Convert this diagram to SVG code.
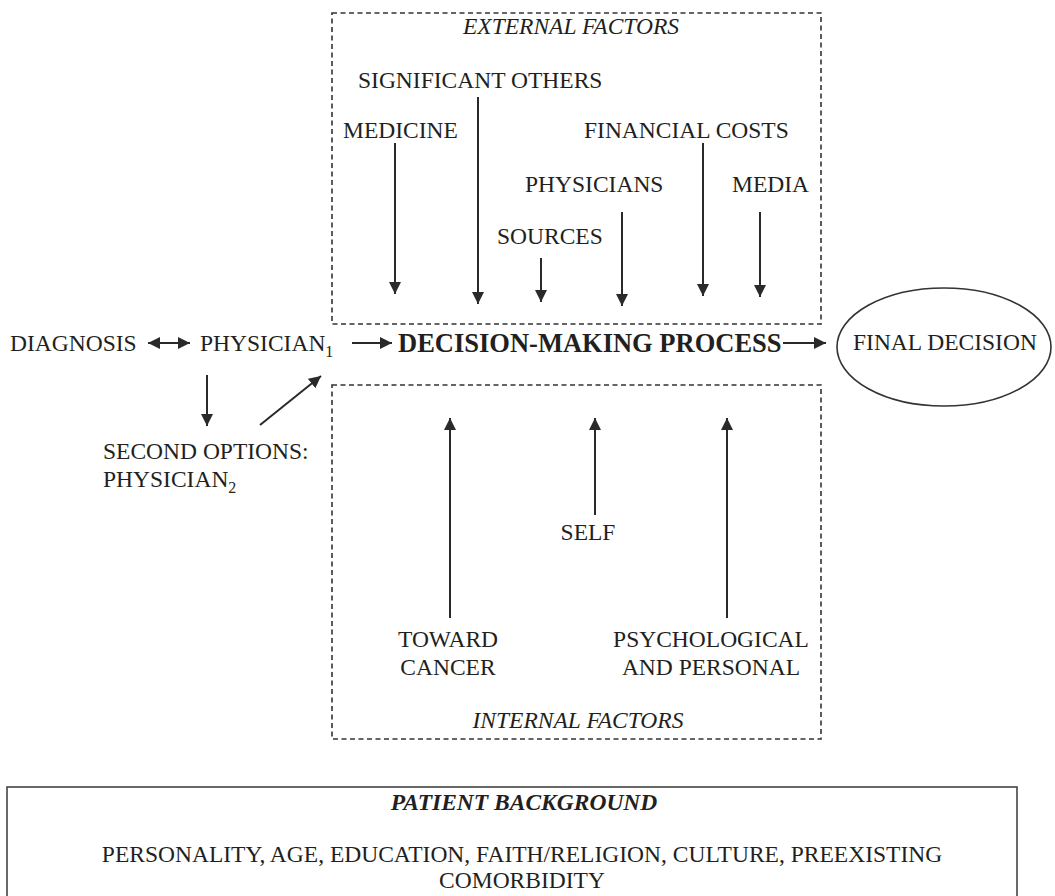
<svg xmlns="http://www.w3.org/2000/svg" width="1055" height="896" viewBox="0 0 1055 896">
<defs>
<marker id="ah" markerUnits="userSpaceOnUse" markerWidth="14" markerHeight="12" refX="12" refY="6" orient="auto-start-reverse">
<path d="M0,0 L12,6 L0,12 Z" fill="#2a2a2a"/>
</marker>
<style>
.t{font-family:"Liberation Serif","Times New Roman",serif;font-size:23.5px;fill:#231f20}
.it{font-style:italic}
.b{font-weight:bold;font-size:26.5px}
.sub{font-size:16px}
.dash{fill:none;stroke:#333;stroke-width:1.6;stroke-dasharray:5,3.5}
.c{fill:none;stroke:#2a2a2a;stroke-width:2;marker-end:url(#ah)}
.m{text-anchor:middle}
</style>
</defs>
<rect width="1055" height="896" fill="#fff"/>

<g id="external">
<rect class="dash" x="332" y="13" width="489" height="311"/>
<text class="t it m" x="571" y="34">EXTERNAL FACTORS</text>
</g>
<g id="significant-others"><text class="t" x="358" y="88">SIGNIFICANT OTHERS</text></g>
<g id="medicine"><text class="t" x="343" y="138">MEDICINE</text></g>
<g id="financial"><text class="t" x="584" y="138">FINANCIAL COSTS</text></g>
<g id="physicians"><text class="t" x="525" y="192">PHYSICIANS</text></g>
<g id="media"><text class="t" x="732" y="192">MEDIA</text></g>
<g id="sources"><text class="t" x="497" y="244">SOURCES</text></g>

<g id="diagnosis"><text class="t" x="10" y="351">DIAGNOSIS</text></g>
<g id="physician1"><text class="t" x="200" y="351">PHYSICIAN<tspan class="sub" dy="6">1</tspan></text></g>
<g id="process"><text class="t b" x="398" y="352">DECISION-MAKING PROCESS</text></g>
<g id="final">
<ellipse cx="944" cy="347" rx="107" ry="59" fill="none" stroke="#333" stroke-width="1.6"/>
<text class="t" x="853" y="350">FINAL DECISION</text>
</g>
<g id="second"><text class="t" x="103" y="459">SECOND OPTIONS:</text><text class="t" x="103" y="487">PHYSICIAN<tspan class="sub" dy="6">2</tspan></text></g>

<g id="internal">
<rect class="dash" x="332" y="385" width="489" height="354"/>
<text class="t it m" x="578" y="728">INTERNAL FACTORS</text>
</g>
<g id="self"><text class="t m" x="588" y="540">SELF</text></g>
<g id="toward"><text class="t m" x="448" y="647">TOWARD</text><text class="t m" x="448" y="675">CANCER</text></g>
<g id="psych"><text class="t m" x="711" y="647">PSYCHOLOGICAL</text><text class="t m" x="711" y="675">AND PERSONAL</text></g>

<g id="background">
<rect x="7" y="787" width="1010" height="120" fill="none" stroke="#444" stroke-width="1.6"/>
<text class="t it m" x="524" y="810" font-weight="bold">PATIENT BACKGROUND</text>
<text class="t m" x="522" y="862">PERSONALITY, AGE, EDUCATION, FAITH/RELIGION, CULTURE, PREEXISTING</text>
<text class="t m" x="522" y="888">COMORBIDITY</text>
</g>

<g id="connectors">
<line class="c" x1="395" y1="143" x2="395" y2="294"/>
<line class="c" x1="478" y1="97" x2="478" y2="304"/>
<line class="c" x1="541" y1="258" x2="541" y2="302"/>
<line class="c" x1="622" y1="212" x2="622" y2="306"/>
<line class="c" x1="703" y1="143" x2="703" y2="296"/>
<line class="c" x1="760" y1="212" x2="760" y2="297"/>
<line class="c" x1="148" y1="343" x2="190" y2="343" style="marker-start:url(#ah)"/>
<line class="c" x1="352" y1="343" x2="392" y2="343"/>
<line class="c" x1="783" y1="343" x2="826" y2="343"/>
<line class="c" x1="207" y1="375" x2="207" y2="426"/>
<line class="c" x1="260" y1="425" x2="321" y2="376"/>
<line class="c" x1="450" y1="618" x2="450" y2="418"/>
<line class="c" x1="595" y1="515" x2="595" y2="418"/>
<line class="c" x1="727" y1="618" x2="727" y2="418"/>
</g>
</svg>
